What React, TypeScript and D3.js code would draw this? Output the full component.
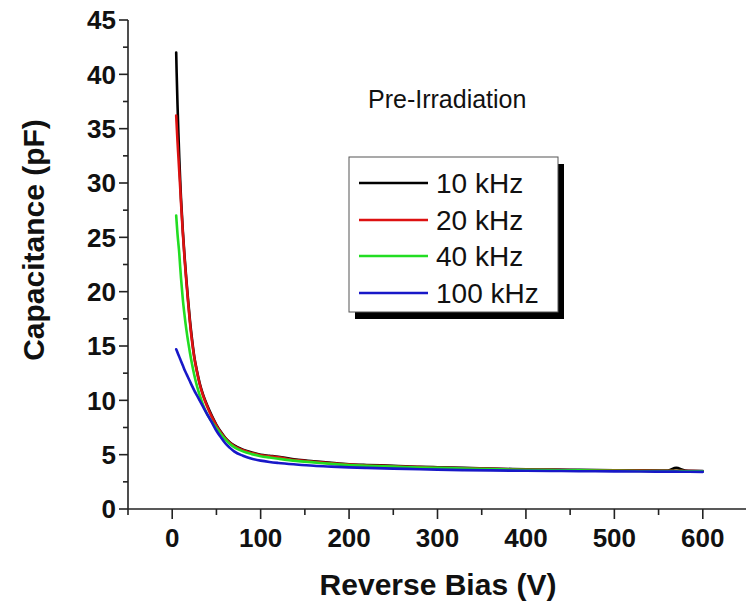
import React from "react";
import * as d3 from "d3";

const biasV = [4.5, 5, 6, 7, 8, 9, 10, 12, 14, 16, 18, 20, 22, 25, 28, 31, 35, 40, 45, 50, 55, 60, 65, 70, 80, 90, 100, 110, 120, 140, 160, 180, 200, 220, 250, 280, 300, 330, 360, 400, 430, 460, 500, 530, 560, 570, 580, 600];
const cap10k = [42.0, 40.2, 37.2, 34.6, 32.3, 30.3, 28.5, 25.6, 23.2, 21.1, 19.2, 17.4, 15.9, 14.0, 12.7, 11.6, 10.5, 9.45, 8.55, 7.75, 7.1, 6.55, 6.15, 5.85, 5.45, 5.2, 5.0, 4.9, 4.8, 4.55, 4.4, 4.25, 4.12, 4.05, 3.98, 3.88, 3.84, 3.78, 3.72, 3.66, 3.62, 3.6, 3.57, 3.55, 3.53, 3.78, 3.54, 3.5];
const cap20k = [36.2, 35.4, 33.8, 32.4, 31.0, 29.6, 28.1, 25.4, 23.0, 20.9, 19.0, 17.2, 15.7, 13.9, 12.6, 11.5, 10.4, 9.35, 8.45, 7.68, 7.05, 6.5, 6.1, 5.8, 5.4, 5.15, 4.95, 4.85, 4.75, 4.5, 4.35, 4.2, 4.08, 4.0, 3.94, 3.85, 3.8, 3.75, 3.69, 3.63, 3.6, 3.57, 3.55, 3.53, 3.51, 3.52, 3.5, 3.48];
const cap40k = [27.0, 26.4, 25.3, 24.4, 23.5, 22.3, 21.2, 19.3, 17.8, 16.5, 15.4, 14.4, 13.5, 12.3, 11.3, 10.5, 9.55, 8.65, 8.0, 7.45, 6.9, 6.4, 6.0, 5.7, 5.3, 5.05, 4.86, 4.74, 4.63, 4.43, 4.29, 4.15, 4.04, 3.97, 3.9, 3.82, 3.78, 3.72, 3.67, 3.61, 3.58, 3.55, 3.52, 3.5, 3.49, 3.5, 3.48, 3.46];
const cap100k = [14.7, 14.6, 14.4, 14.2, 14.0, 13.8, 13.6, 13.2, 12.8, 12.45, 12.1, 11.75, 11.4, 10.9, 10.45, 10.0, 9.4, 8.65, 7.95, 7.2, 6.6, 6.05, 5.65, 5.3, 4.9, 4.63, 4.45, 4.33, 4.24, 4.1, 3.98, 3.9, 3.83, 3.78, 3.72, 3.66, 3.62, 3.58, 3.55, 3.52, 3.5, 3.48, 3.46, 3.45, 3.44, 3.44, 3.43, 3.42];

const seriesNames = ["10 kHz", "20 kHz", "40 kHz", "100 kHz"];
const seriesValues = [cap10k, cap20k, cap40k, cap100k];
const seriesColors = ["#000000", "#dd1111", "#22dd22", "#1818c8"];

const xMajorTicks = [0, 100, 200, 300, 400, 500, 600];
const xMinorTicks = [-50, 50, 150, 250, 350, 450, 550, 650];
const yMajorTicks = [0, 5, 10, 15, 20, 25, 30, 35, 40, 45];
const yMinorTicks = [2.5, 7.5, 12.5, 17.5, 22.5, 27.5, 32.5, 37.5, 42.5];

const title = "Pre-Irradiation";
const xTitle = "Reverse Bias (V)";
const yTitle = "Capacitance (pF)";

const FONT = "'Liberation Sans', Arial, Helvetica, sans-serif";

export default function App() {
  const W = 746, H = 605;
  const x = d3.scaleLinear().domain([-50, 650]).range([128, 747]);
  const y = d3.scaleLinear().domain([0, 45]).range([509, 20]);
  const line = d3.line<[number, number]>().x(d => x(d[0])).y(d => y(d[1])).curve(d3.curveMonotoneX);

  const legX = 349, legY = 157, legW = 209, legH = 155;
  const rowY = [183, 220, 256, 293];

  return (
    <svg width={W} height={H} style={{ position: "absolute", left: 0, top: 0, background: "#fff" }} fontFamily={FONT}>
      <rect x={0} y={0} width={W} height={H} fill="#fff" />
      {seriesValues.map((vals, i) => (
        <path key={i} d={line(biasV.map((v, j) => [v, vals[j]]) as [number, number][]) || ""}
          fill="none" stroke={seriesColors[i]} strokeWidth={2.6} strokeLinejoin="round" strokeLinecap="round" />
      ))}
      <line x1={128} x2={128} y1={y(45)} y2={509} stroke="#222" strokeWidth={1.6} />
      <line x1={128} x2={746} y1={509} y2={509} stroke="#222" strokeWidth={1.6} />
      {yMajorTicks.map(t => (
        <g key={"ym" + t}>
          <line x1={119} x2={128} y1={y(t)} y2={y(t)} stroke="#222" strokeWidth={1.6} />
          <text x={116} y={y(t)} dy="0.36em" textAnchor="end" fontSize={26} fontWeight="bold" fill="#111">{t}</text>
        </g>
      ))}
      {yMinorTicks.map(t => (
        <line key={"yn" + t} x1={123} x2={128} y1={y(t)} y2={y(t)} stroke="#222" strokeWidth={1.6} />
      ))}
      {xMajorTicks.map(t => (
        <g key={"xm" + t}>
          <line x1={x(t)} x2={x(t)} y1={509} y2={519} stroke="#222" strokeWidth={1.6} />
          <text x={x(t)} y={547} textAnchor="middle" fontSize={26} fontWeight="bold" fill="#111">{t}</text>
        </g>
      ))}
      {xMinorTicks.map(t => (
        <line key={"xn" + t} x1={x(t)} x2={x(t)} y1={509} y2={515} stroke="#222" strokeWidth={1.6} />
      ))}
      <text x={438} y={595} textAnchor="middle" fontSize={30} fontWeight="bold" fill="#111">{xTitle}</text>
      <text transform={`translate(44, 240) rotate(-90)`} textAnchor="middle" fontSize={30} fontWeight="bold" fill="#111">{yTitle}</text>
      <text x={368} y={108} fontSize={25} fill="#111">{title}</text>
      <rect x={legX + 6} y={legY + 7} width={legW} height={legH} fill="#000" />
      <rect x={legX} y={legY} width={legW} height={legH} fill="#fff" stroke="#555" strokeWidth={1} />
      {seriesNames.map((n, i) => (
        <g key={n}>
          <line x1={359} x2={428} y1={rowY[i]} y2={rowY[i]} stroke={seriesColors[i]} strokeWidth={2.6} />
          <text x={436} y={rowY[i]} dy="0.36em" fontSize={28} fill="#111">{n}</text>
        </g>
      ))}
    </svg>
  );
}
